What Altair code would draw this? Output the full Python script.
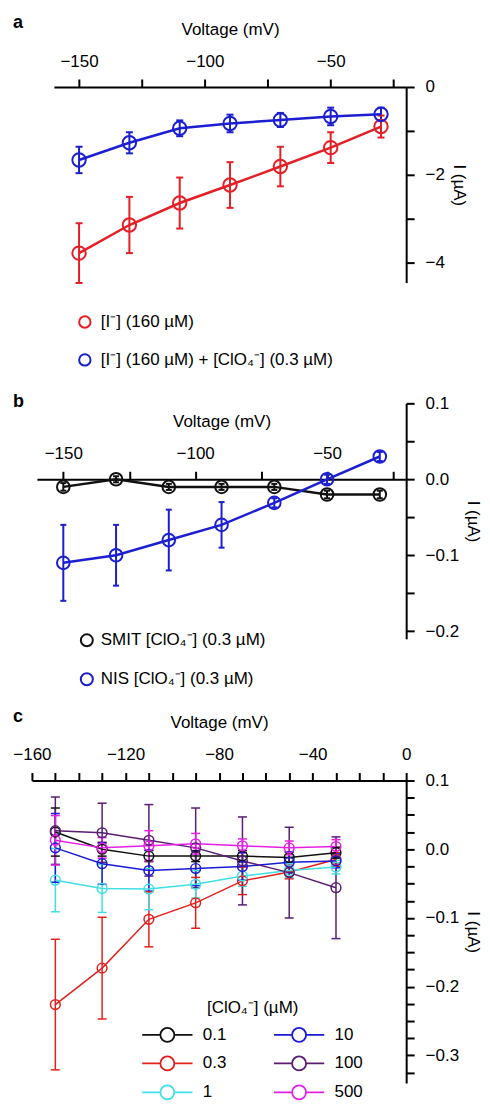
import altair as alt
import pandas as pd

# ---------------- data ----------------
voltage = [-150, -130, -110, -90, -70, -50, -30]

# panel a
a_names = ["[I⁻] (160 µM)", "[I⁻] (160 µM) + [ClO₄⁻] (0.3 µM)"]
a_colors = ["#e41f26", "#1c1fd1"]
a_iodide_mean = [-3.78, -3.14, -2.64, -2.23, -1.81, -1.38, -0.90]
a_iodide_err = [0.68, 0.64, 0.58, 0.52, 0.45, 0.35, 0.25]
a_mix_mean = [-1.66, -1.27, -0.94, -0.83, -0.75, -0.67, -0.62]
a_mix_err = [0.30, 0.24, 0.18, 0.20, 0.16, 0.20, 0.15]
a_x_ticks = [-150, -125, -100, -75, -50, -25]
a_y_ticks = [0, -1, -2, -3, -4]

# panel b
b_names = ["SMIT [ClO₄⁻] (0.3 µM)", "NIS [ClO₄⁻] (0.3 µM)"]
b_colors = ["#111111", "#1c1fd1"]
b_smit_mean = [-0.010, 0.000, -0.010, -0.010, -0.010, -0.020, -0.020]
b_smit_err = [0.005, 0.004, 0.004, 0.004, 0.004, 0.005, 0.005]
b_nis_mean = [-0.110, -0.100, -0.080, -0.060, -0.031, 0.000, 0.030]
b_nis_err = [0.050, 0.040, 0.040, 0.030, 0.006, 0.006, 0.006]
b_x_ticks = [-150, -125, -100, -75, -50, -25]
b_y_ticks = [0.1, 0.05, 0.0, -0.05, -0.1, -0.15, -0.2]

# panel c
c_names = ["0.1", "0.3", "1", "10", "100", "500"]
c_colors = ["#111111", "#e3201c", "#40dfe6", "#1a1ad8", "#5a1d74", "#e61fe6"]
c_01_mean = [0.025, 0.000, -0.010, -0.010, -0.010, -0.012, -0.005]
c_01_err = [0.035, 0.010, 0.008, 0.008, 0.008, 0.008, 0.008]
c_03_mean = [-0.226, -0.173, -0.102, -0.078, -0.046, -0.033, -0.015]
c_03_err = [0.095, 0.074, 0.040, 0.037, 0.020, 0.010, 0.010]
c_1_mean = [-0.045, -0.057, -0.058, -0.051, -0.039, -0.031, -0.026]
c_1_err = [0.046, 0.035, 0.030, 0.020, 0.015, 0.010, 0.010]
c_10_mean = [0.002, -0.021, -0.031, -0.028, -0.025, -0.019, -0.017]
c_10_err = [0.050, 0.030, 0.030, 0.025, 0.020, 0.015, 0.010]
c_100_mean = [0.027, 0.024, 0.013, 0.002, -0.017, -0.034, -0.056]
c_100_err = [0.049, 0.043, 0.052, 0.058, 0.064, 0.066, 0.074]
c_500_mean = [0.013, 0.002, 0.005, 0.008, 0.005, 0.002, 0.004]
c_500_err = [0.036, 0.015, 0.022, 0.015, 0.010, 0.010, 0.010]
c_x_ticks = [-160, -150, -140, -130, -120, -110, -100, -90, -80, -70, -60,
             -50, -40, -30, -20, -10, 0]
c_y_ticks = [0.1, 0.075, 0.05, 0.025, 0.0, -0.025, -0.05, -0.075, -0.1, -0.125,
             -0.15, -0.175, -0.2, -0.225, -0.25, -0.275, -0.3, -0.325]


def table(names, means, errs):
    rows = []
    for n, m, e in zip(names, means, errs):
        for v, mi, ei in zip(voltage, m, e):
            rows.append({"voltage": v, "current": mi, "lo": mi - ei,
                         "hi": mi + ei, "series": n})
    return pd.DataFrame(rows)


AX = dict(domainColor="black", domainWidth=2, tickColor="black", tickWidth=2,
          tickSize=8, labelFontSize=17, labelColor="black", titleFontSize=17,
          titleFontWeight="normal", titleColor="black", grid=False,
          labelOverlap=False, labelFlush=False, labelBound=False,
          labelFont="Liberation Sans", titleFont="Liberation Sans")


def panel(df, names, colors, xdom, xrange, xticks, xexpr, ydom, yrange, yticks,
          yexpr, width, height, legend, lw, ew, psize, psw, cap, letter,
          letter_y, xoffset=0):
    xs = alt.Scale(domain=xdom, range=xrange, nice=False, zero=False)
    ys = alt.Scale(domain=ydom, range=yrange, nice=False, zero=False)
    xa = alt.Axis(orient="top", title="Voltage (mV)", values=xticks,
                  labelExpr=xexpr, offset=xoffset, labelPadding=9,
                  titlePadding=14, **AX)
    ya = alt.Axis(orient="right", title="I (µA)", values=yticks,
                  labelExpr=yexpr, labelPadding=11, titlePadding=5, **AX)
    x = alt.X("voltage:Q", scale=xs, axis=xa)
    color = alt.Color("series:N", scale=alt.Scale(domain=names, range=colors),
                      legend=legend)
    base = alt.Chart(df)
    rules = base.mark_rule(strokeWidth=ew).encode(
        x=x, y=alt.Y("lo:Q", scale=ys, axis=ya), y2="hi:Q", color=color)
    cap_lo = base.mark_rule(strokeWidth=ew, xOffset=-cap / 2,
                            x2Offset=cap / 2).encode(
        x=x, x2="voltage:Q", y=alt.Y("lo:Q", scale=ys, axis=ya), color=color)
    cap_hi = base.mark_rule(strokeWidth=ew, xOffset=-cap / 2,
                            x2Offset=cap / 2).encode(
        x=x, x2="voltage:Q", y=alt.Y("hi:Q", scale=ys, axis=ya), color=color)
    lines = base.mark_line(strokeWidth=lw).encode(
        x=x, y=alt.Y("current:Q", scale=ys, axis=ya), color=color,
        order="voltage:Q")
    pts = base.mark_point(filled=False, size=psize, strokeWidth=psw,
                          opacity=1).encode(
        x=x, y=alt.Y("current:Q", scale=ys, axis=ya), color=color)
    txt = alt.Chart(pd.DataFrame({"t": [letter]})).mark_text(
        fontSize=18, fontWeight="bold", align="left", baseline="alphabetic",
        color="black", font="Liberation Sans").encode(
        text="t:N", x=alt.value(0), y=alt.value(letter_y))
    return alt.layer(rules, cap_lo, cap_hi, lines, pts, txt).properties(
        width=width, height=height)


W = 394
LEG = dict(labelFont="Liberation Sans", titleFont="Liberation Sans",
           labelFontSize=17, labelColor="black", padding=0, labelLimit=400,
           symbolFillColor="white", symbolOpacity=1)

# ---- panel a ----
df_a = table(a_names, [a_iodide_mean, a_mix_mean], [a_iodide_err, a_mix_err])
leg_a = alt.Legend(orient="none", legendX=63.5, legendY=227, title=None,
                   symbolType="circle", symbolSize=130, symbolStrokeWidth=2,
                   labelOffset=7.5, rowPadding=17, **LEG)
pa = panel(df_a, a_names, a_colors, [-160, -20], [41, W], a_x_ticks,
           "datum.value % 50 == 0 ? format(datum.value, 'd') : ''",
           [-4.45, 0], [196, 0], a_y_ticks,
           "datum.value % 2 == 0 ? format(datum.value, 'd') : ''",
           W, 196, leg_a, 2.5, 2, 180, 2, 7, "a", -59)

# ---- panel b ----
df_b = table(b_names, [b_smit_mean, b_nis_mean], [b_smit_err, b_nis_err])
leg_b = alt.Legend(orient="none", legendX=65.5, legendY=229, title=None,
                   symbolType="circle", symbolSize=144, symbolStrokeWidth=2,
                   labelOffset=5.5, rowPadding=18, **LEG)
pb = panel(df_b, b_names, b_colors, [-160, -20], [24, W], b_x_ticks,
           "datum.value % 50 == 0 ? format(datum.value, 'd') : ''",
           [-0.21, 0.1], [236, 0], b_y_ticks,
           "abs(round(datum.value * 100)) % 10 == 0 ? format(datum.value, '.1f') : ''",
           W, 257, leg_b, 2.5, 2, 160, 2, 6, "b", 4, xoffset=-76.1)

# ---- panel c ----
df_c = table(c_names,
             [c_01_mean, c_03_mean, c_1_mean, c_10_mean, c_100_mean, c_500_mean],
             [c_01_err, c_03_err, c_1_err, c_10_err, c_100_err, c_500_err])
line_circle = ("M-3.6,0L-1,0M1,0L3.6,0M-1,0A1,1,0,1,1,1,0A1,1,0,1,1,-1,0Z")
leg_c = alt.Legend(orient="none", legendX=129.2, legendY=220, columns=2,
                   title="[ClO₄⁻] (µM)", titleFontSize=17,
                   titleFontWeight="normal", titleColor="black",
                   titleAnchor="middle", titleAlign="center", titlePadding=9,
                   symbolType=line_circle, symbolSize=196, symbolStrokeWidth=1.8,
                   symbolOffset=17, labelOffset=27,
                   columnPadding=43, rowPadding=6, **LEG)
pc = panel(df_c, c_names, c_colors, [-160, 0], [19, W], c_x_ticks,
           "datum.value % 40 == 0 ? format(datum.value, 'd') : ''",
           [-0.34, 0.1], [303, 0], c_y_ticks,
           "abs(round(datum.value * 1000)) % 100 == 0 ? format(datum.value, '.1f') : ''",
           W, 303, leg_c, 1.5, 1.5, 95, 1.5, 9, "c", -59)

chart = alt.vconcat(pa, pb, pc, spacing=121, bounds="flush").resolve_scale(
    color="independent", x="independent", y="independent"
).resolve_legend(color="independent").properties(
    padding={"left": 4, "top": 5, "right": 0, "bottom": 0}
).configure(font="Liberation Sans").configure_view(stroke=None)

chart.save("out.html", embed_options={"renderer": "svg", "actions": False})
